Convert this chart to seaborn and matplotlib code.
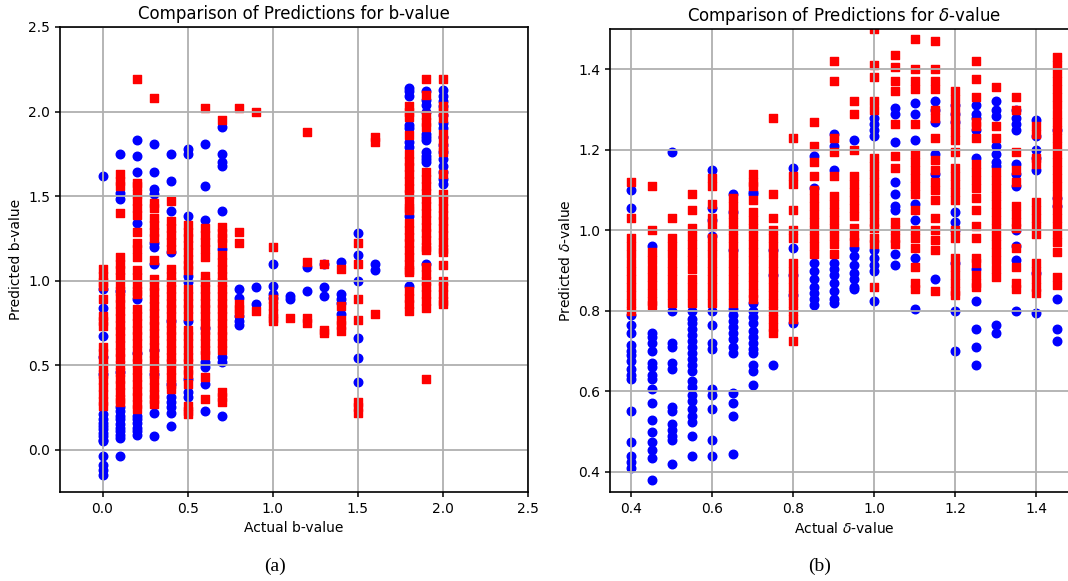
import numpy as np
import pandas as pd
import matplotlib
matplotlib.use("Agg")
import matplotlib.pyplot as plt
import seaborn as sns

# ---- panel (a): b-value ----
b_actual = [0.0, 0.1, 0.2, 0.3, 0.4, 0.5, 0.6, 0.7, 0.8, 0.9, 1.0, 1.1, 1.2, 1.3, 1.4, 1.5, 1.6, 1.8, 1.9, 2.0]

b_blue = [
    [1.62, 0.95, 0.84, 0.67, 0.55, 0.45, 0.21, 0.18, 0.16, 0.14, 0.12, 0.10, 0.08, 0.06, 0.05, -0.04, -0.09, -0.12, -0.15],
    [1.75, 1.52, 1.48, 0.94, 0.46, 0.25, 0.23, 0.20, 0.18, 0.15, 0.13, 0.11, 0.09, 0.07, -0.04],
    [1.83, 1.74, 1.64, 1.34, 0.89, 0.57, 0.20, 0.18, 0.16, 0.13, 0.11, 0.09],
    [1.81, 1.64, 1.54, 1.51, 1.22, 1.20, 1.10, 0.59, 0.45, 0.22, 0.08],
    [1.75, 1.59, 1.41, 1.17, 0.76, 0.39, 0.31, 0.28, 0.25, 0.22, 0.14],
    [1.78, 1.75, 1.38, 1.03, 0.99, 0.76, 0.42, 0.34, 0.31],
    [1.81, 1.56, 1.36, 0.72, 0.52, 0.49, 0.39, 0.23],
    [1.91, 1.75, 1.70, 1.68, 1.41, 1.19, 0.55, 0.52, 0.20],
    [0.95, 0.90, 0.79, 0.76, 0.74],
    [0.96, 0.86],
    [1.10, 0.97, 0.92, 0.90],
    [0.91, 0.89],
    [1.08, 0.94],
    [1.10, 0.96, 0.91],
    [1.11, 0.92, 0.89, 0.87, 0.80],
    [1.28, 1.15, 1.00, 0.66, 0.54, 0.40],
    [1.10, 1.06],
    [2.14, 2.12, 2.09, 1.92, 1.90, 1.82, 1.79, 1.38, 0.97],
    [2.12, 2.07, 2.04, 2.00, 1.87, 1.85, 1.83, 1.76, 1.74, 1.72, 1.70, 1.10],
    [2.13, 2.09, 2.06, 2.03, 1.98, 1.93, 1.90, 1.85, 1.80, 1.76, 1.72, 1.68, 1.64, 1.60, 1.57],
]

b_red = [
    [1.07, 1.03, 0.99, 0.97, 0.89, 0.79, 0.76, 0.73, 0.61, 0.57, 0.53, 0.49, 0.45, 0.41, 0.37, 0.33, 0.29, 0.26],
    [1.63, 1.59, 1.56, 1.40, 1.14, 1.10, 1.06, 1.02, 0.98, 0.94, 0.90, 0.86, 0.82, 0.78, 0.74, 0.70, 0.66, 0.62,
     0.58, 0.54, 0.50, 0.46, 0.42, 0.38, 0.34, 0.30, 0.28],
    [2.19, 1.58, 1.56, 1.51, 1.47, 1.43, 1.39, 1.29, 1.22, 1.19, 1.14, 1.06, 1.02, 0.98, 0.94, 0.92, 0.83, 0.79,
     0.75, 0.71, 0.67, 0.63, 0.59, 0.55, 0.51, 0.47, 0.43, 0.39, 0.35, 0.31, 0.27, 0.24],
    [2.08, 1.46, 1.43, 1.37, 1.33, 1.29, 1.25, 1.12, 1.01, 0.97, 0.93, 0.89, 0.85, 0.81, 0.77, 0.73, 0.69, 0.65,
     0.61, 0.57, 0.53, 0.49, 0.45, 0.41, 0.37, 0.33, 0.30, 0.27],
    [1.47, 1.35, 1.31, 1.27, 1.23, 1.19, 1.07, 1.03, 0.99, 0.95, 0.91, 0.87, 0.83, 0.79, 0.75, 0.71, 0.67, 0.63,
     0.59, 0.55, 0.51, 0.47, 0.43, 0.39, 0.36],
    [1.33, 1.29, 1.25, 1.21, 1.17, 1.13, 1.09, 1.06, 0.95, 0.91, 0.87, 0.83, 0.79, 0.71, 0.67, 0.63, 0.59, 0.55,
     0.51, 0.47, 0.45, 0.39, 0.26, 0.23, 0.21],
    [2.02, 1.31, 1.27, 1.23, 1.19, 1.14, 1.03, 0.99, 0.95, 0.91, 0.87, 0.83, 0.79, 0.75, 0.71, 0.67, 0.63, 0.59,
     0.56, 0.43, 0.30],
    [1.95, 1.32, 1.28, 1.25, 1.22, 1.15, 1.11, 1.07, 1.03, 0.99, 0.95, 0.91, 0.87, 0.83, 0.79, 0.75, 0.71, 0.67,
     0.63, 0.59, 0.34, 0.31, 0.28],
    [2.02, 1.29, 1.22, 0.86, 0.83, 0.81],
    [2.00, 0.82],
    [1.20, 0.89, 0.85, 0.81, 0.78, 0.76],
    [0.78],
    [1.88, 1.11, 0.78, 0.75],
    [1.10, 0.71, 0.69],
    [1.07, 0.85, 0.77, 0.74, 0.70],
    [1.22, 1.10, 0.89, 0.77, 0.28, 0.25, 0.22],
    [1.85, 1.82, 0.80],
    [2.03, 2.00, 1.97, 1.86, 1.75, 1.71, 1.67, 1.63, 1.59, 1.55, 1.51, 1.47, 1.43, 1.42, 1.34, 1.30, 1.26, 1.22,
     1.18, 1.14, 1.10, 1.06, 1.05, 0.94, 0.90, 0.86, 0.82],
    [2.19, 2.10, 1.98, 1.94, 1.91, 1.64, 1.60, 1.56, 1.52, 1.48, 1.44, 1.40, 1.36, 1.32, 1.28, 1.24, 1.20, 1.18,
     1.08, 1.04, 1.00, 0.96, 0.92, 0.88, 0.84, 0.42],
    [2.19, 2.03, 2.00, 1.96, 1.87, 1.83, 1.79, 1.76, 1.63, 1.51, 1.47, 1.43, 1.39, 1.35, 1.31, 1.27, 1.23, 1.19,
     1.17, 1.09, 1.00, 0.96, 0.92, 0.88, 0.86],
]

# ---- panel (b): delta-value ----
d_actual = [0.40, 0.45, 0.50, 0.55, 0.60, 0.65, 0.70, 0.75, 0.80, 0.85, 0.90,
            0.95, 1.00, 1.05, 1.10, 1.15, 1.20, 1.25, 1.30, 1.35, 1.40, 1.45]

d_blue = [
    [1.10, 1.055, 0.79, 0.765, 0.745, 0.715, 0.70, 0.69, 0.675, 0.655, 0.64, 0.63, 0.55, 0.475, 0.44, 0.425, 0.41],
    [0.96, 0.745, 0.735, 0.72, 0.70, 0.67, 0.66, 0.64, 0.63, 0.605, 0.57, 0.53, 0.50, 0.475, 0.455, 0.435, 0.38],
    [1.195, 0.80, 0.72, 0.71, 0.67, 0.655, 0.56, 0.55, 0.52, 0.505, 0.49, 0.48, 0.42],
    [0.80, 0.78, 0.77, 0.755, 0.74, 0.725, 0.71, 0.695, 0.68, 0.665, 0.65, 0.625, 0.61, 0.59, 0.575, 0.555,
     0.54, 0.525, 0.49, 0.44],
    [1.15, 1.055, 1.025, 0.985, 0.80, 0.765, 0.72, 0.705, 0.605, 0.59, 0.555, 0.48, 0.44],
    [1.09, 1.045, 0.95, 0.805, 0.79, 0.775, 0.76, 0.745, 0.73, 0.71, 0.695, 0.595, 0.57, 0.54, 0.445],
    [1.095, 1.09, 0.82, 0.80, 0.785, 0.77, 0.75, 0.735, 0.72, 0.705, 0.695, 0.665, 0.65, 0.615],
    [0.95, 0.89, 0.665],
    [1.155, 0.955, 0.89, 0.84, 0.77],
    [1.185, 1.105, 0.92, 0.90, 0.88, 0.86, 0.845, 0.83, 0.815],
    [1.24, 1.21, 1.15, 0.92, 0.905, 0.89, 0.87, 0.85, 0.83, 0.82],
    [1.225, 0.955, 0.935, 0.915, 0.895, 0.88, 0.86, 0.855],
    [1.28, 1.265, 1.25, 1.235, 0.95, 0.93, 0.915, 0.90, 0.825],
    [1.305, 1.29, 1.22, 1.12, 1.09, 1.06, 1.05, 0.94, 0.915],
    [1.315, 1.29, 1.225, 1.065, 1.025, 0.93, 0.805],
    [1.32, 1.30, 1.27, 1.19, 1.14, 0.88],
    [1.31, 1.29, 1.27, 1.045, 1.02, 1.00, 0.92, 0.80, 0.70],
    [1.31, 1.29, 1.28, 1.25, 1.18, 0.905, 0.825, 0.755, 0.71, 0.665],
    [1.32, 1.30, 1.285, 1.21, 1.19, 1.17, 1.16, 0.765, 0.745],
    [1.30, 1.28, 1.265, 1.25, 1.165, 1.14, 1.11, 1.00, 0.96, 0.925, 0.80],
    [1.275, 1.235, 1.20, 1.18, 1.15, 0.895, 0.795],
    [1.25, 1.08, 1.06, 0.83, 0.755, 0.725],
]

d_red = [
    [1.12, 1.03, 0.98, 0.96, 0.94, 0.92, 0.90, 0.88, 0.86, 0.84, 0.82, 0.80],
    [1.11, 1.00, 0.945, 0.925, 0.905, 0.885, 0.865, 0.845, 0.825, 0.815],
    [1.03, 0.98, 0.96, 0.94, 0.92, 0.90, 0.88, 0.86, 0.84, 0.82],
    [1.09, 1.05, 1.005, 0.985, 0.965, 0.945, 0.925, 0.905, 0.88, 0.86, 0.84, 0.82],
    [1.13, 1.11, 1.065, 1.03, 1.01, 0.98, 0.96, 0.94, 0.92, 0.90, 0.88, 0.86, 0.84, 0.82],
    [1.08, 1.06, 1.04, 1.02, 1.00, 0.98, 0.96, 0.94, 0.92, 0.90, 0.88, 0.86, 0.84, 0.82],
    [1.14, 1.12, 1.11, 1.075, 1.045, 1.025, 1.005, 0.985, 0.965, 0.945, 0.925, 0.905, 0.885, 0.865, 0.845, 0.83],
    [1.28, 1.09, 1.03, 1.00, 0.98, 0.96, 0.94, 0.92, 0.90, 0.88, 0.86, 0.84, 0.82, 0.80, 0.78, 0.76, 0.745],
    [1.23, 1.135, 1.115, 1.05, 1.00, 0.98, 0.92, 0.90, 0.88, 0.86, 0.84, 0.82, 0.80, 0.78, 0.725],
    [1.27, 1.21, 1.17, 1.135, 1.10, 1.08, 1.06, 1.04, 1.02, 1.00, 0.98, 0.96, 0.94],
    [1.42, 1.37, 1.23, 1.195, 1.135, 1.085, 1.065, 1.045, 1.025, 1.005, 0.985, 0.965, 0.94],
    [1.32, 1.29, 1.20, 1.135, 1.115, 1.095, 1.075, 1.055, 1.035, 1.005, 0.985, 0.97],
    [1.50, 1.41, 1.38, 1.32, 1.30, 1.18, 1.16, 1.14, 1.12, 1.10, 1.08, 1.06, 1.04, 1.02, 1.005, 0.98, 0.965, 0.86],
    [1.435, 1.405, 1.37, 1.345, 1.265, 1.185, 1.155, 1.02, 1.00, 0.98, 0.965],
    [1.475, 1.40, 1.37, 1.35, 1.265, 1.19, 1.17, 1.15, 1.13, 1.11, 1.09, 1.05, 1.00, 0.98, 0.955, 0.91, 0.87, 0.855],
    [1.47, 1.40, 1.37, 1.35, 1.30, 1.28, 1.23, 1.175, 1.15, 1.12, 1.10, 1.075, 1.03, 1.00, 0.975, 0.95, 0.85],
    [1.345, 1.325, 1.305, 1.285, 1.265, 1.245, 1.225, 1.195, 1.155, 1.135, 1.115, 1.095, 1.075, 1.00, 0.98,
     0.93, 0.91, 0.89, 0.87, 0.85, 0.84],
    [1.42, 1.375, 1.33, 1.27, 1.26, 1.23, 1.165, 1.145, 1.125, 1.105, 1.08, 1.05, 1.01, 0.98, 0.93, 0.92,
     0.89, 0.87, 0.86],
    [1.355, 1.26, 1.23, 1.145, 1.125, 1.105, 1.085, 1.065, 1.045, 1.025, 1.005, 0.985, 0.965, 0.945, 0.925,
     0.905, 0.885],
    [1.33, 1.30, 1.195, 1.15, 1.12, 1.06, 1.04, 1.02, 1.005, 0.955, 0.91, 0.87, 0.855],
    [1.26, 1.24, 1.18, 1.165, 1.07, 1.05, 1.03, 1.01, 0.99, 0.92, 0.90, 0.88, 0.86, 0.845],
    [1.43, 1.41, 1.39, 1.37, 1.35, 1.33, 1.31, 1.29, 1.27, 1.25, 1.23, 1.21, 1.19, 1.17, 1.15, 1.13, 1.11,
     1.09, 1.07, 1.05, 1.03, 1.01, 0.99, 0.97, 0.945, 0.885, 0.865],
]


def to_frame(actual, preds):
    rows = [(a, p) for a, col in zip(actual, preds) for p in col]
    return pd.DataFrame(rows, columns=["actual", "predicted"])


fig = plt.figure(figsize=(10.68, 5.81), dpi=100)
W, H = 1068, 581
ax1 = fig.add_axes([60 / W, (H - 492) / H, 468 / W, 465 / H])
ax2 = fig.add_axes([610 / W, (H - 492) / H, 468 / W, 463 / H])

panels = [
    (ax1, b_actual, b_blue, b_red, "b-value", "b-value"),
    (ax2, d_actual, d_blue, d_red, r"$\delta$-value", r"$\delta$-value"),
]

for ax, actual, blue, red, name, lab in panels:
    sns.scatterplot(data=to_frame(actual, blue), x="actual", y="predicted", color="blue",
                    marker="o", s=38, edgecolor="face", linewidth=1, ax=ax, legend=False)
    sns.scatterplot(data=to_frame(actual, red), x="actual", y="predicted", color="red",
                    marker="s", s=38, edgecolor="face", linewidth=1, ax=ax, legend=False)
    ax.set_title("Comparison of Predictions for " + name, fontsize=12)
    ax.set_xlabel("Actual " + lab, fontsize=10)
    ax.set_ylabel("Predicted " + lab, fontsize=10)
    ax.grid(True, color="#b0b0b0", linewidth=1.3)
    for sp in ax.spines.values():
        sp.set_linewidth(1.2)
    ax.tick_params(width=1.1, labelsize=10)

ax1.set_xlim(-0.25, 2.5)
ax1.set_ylim(-0.25, 2.5)
ax1.set_xticks([0.0, 0.5, 1.0, 1.5, 2.0, 2.5])
ax1.set_yticks([0.0, 0.5, 1.0, 1.5, 2.0, 2.5])

ax2.set_xlim(0.3475, 1.5025)
ax2.set_ylim(0.35, 1.5)
ax2.set_xticks([0.4, 0.6, 0.8, 1.0, 1.2, 1.4])
ax2.set_yticks([0.4, 0.6, 0.8, 1.0, 1.2, 1.4])

fig.text(275 / W, 1 - 566 / H, "(a)", ha="center", va="center",
         family="Liberation Serif", fontsize=14)
fig.text(820 / W, 1 - 566 / H, "(b)", ha="center", va="center",
         family="Liberation Serif", fontsize=14)

fig.savefig("out.png", dpi=100)
